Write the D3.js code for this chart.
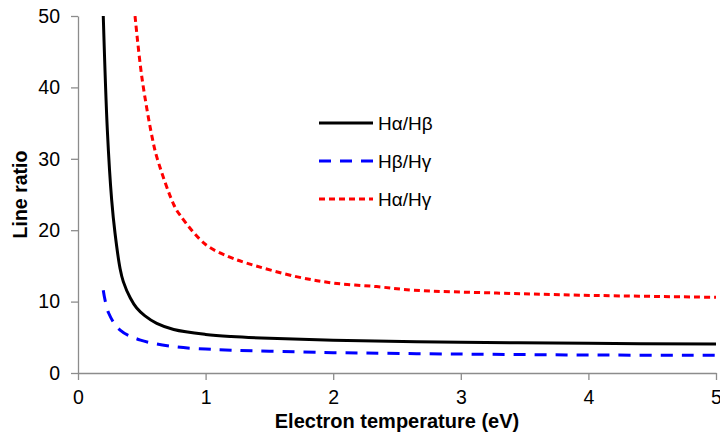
<!DOCTYPE html>
<html><head><meta charset="utf-8">
<script src="https://cdn.jsdelivr.net/npm/d3@7"></script>
<style>
html,body{margin:0;padding:0;background:#fff;}
text{font-family:"Liberation Sans",Arial,sans-serif;}
</style></head>
<body><svg id="chart" width="720" height="436"></svg>
<script>
// Hα/Hβ
const tempAB = [0.198, 0.23, 0.264, 0.29, 0.33, 0.355, 0.41, 0.46, 0.525, 0.617, 0.75, 1.0, 1.2, 1.5, 2.0, 3.0, 4.0, 5.0];
const ratioAB = [50, 34, 24.2, 19.6, 14.6, 12.8, 10.5, 9.1, 8.0, 6.95, 6.1, 5.4, 5.1, 4.85, 4.6, 4.3, 4.15, 4.05];
// Hβ/Hγ
const tempBG = [0.198, 0.24, 0.33, 0.49, 0.75, 1.0, 1.2, 1.5, 2.0, 3.0, 4.0, 5.0];
const ratioBG = [11.6, 8.4, 6.0, 4.6, 3.7, 3.35, 3.2, 3.05, 2.85, 2.65, 2.52, 2.48];
// Hα/Hγ
const tempAG = [0.447, 0.5, 0.58, 0.62, 0.75, 0.8, 1.0, 1.18, 1.32, 1.71, 2.0, 2.34, 2.63, 3.28, 3.93, 5.0];
const ratioAG = [50, 41.5, 33.1, 30.1, 23.6, 22.1, 18.0, 16.3, 15.4, 13.5, 12.6, 12.1, 11.6, 11.2, 10.9, 10.6];

const seriesNames = ["Hα/Hβ", "Hβ/Hγ", "Hα/Hγ"];
const xTicks = [0, 1, 2, 3, 4, 5];
const yTicks = [0, 10, 20, 30, 40, 50];

const svg = d3.select("#chart");
const L = 78, R = 716, T = 16, B = 373;
const x = d3.scaleLinear().domain([0, 5]).range([L, R]);
const y = d3.scaleLinear().domain([0, 50]).range([B, T]);

svg.append("defs").append("clipPath").attr("id","clip")
  .append("rect").attr("x", L).attr("y", T).attr("width", R - L).attr("height", B - T);

const axisColor = "#8c8c8c";
const gx = svg.append("g").attr("transform", `translate(0,${B})`)
  .call(d3.axisBottom(x).tickValues(xTicks).tickFormat(d3.format("d")).tickSize(7).tickSizeOuter(0).tickPadding(10));
const gy = svg.append("g").attr("transform", `translate(${L},0)`)
  .call(d3.axisLeft(y).tickValues(yTicks).tickFormat(d3.format("d")).tickSize(7).tickSizeOuter(0).tickPadding(11));
[gx, gy].forEach(g => {
  g.attr("font-size", null);
  g.select(".domain").attr("stroke", axisColor).attr("stroke-width", 1.3);
  g.selectAll(".tick line").attr("stroke", axisColor).attr("stroke-width", 1.3);
  g.selectAll(".tick text").attr("fill", "#000").style("font-size", "19.5px").style("font-family", "'Liberation Sans', Arial, sans-serif");
});

const line = d3.line().x(d => x(d[0])).y(d => y(d[1])).curve(d3.curveCatmullRom.alpha(0.5));
const series = [
  {name: seriesNames[0], t: tempAB, v: ratioAB, color: "#000000", dash: null},
  {name: seriesNames[1], t: tempBG, v: ratioBG, color: "#0000ff", dash: "12,9"},
  {name: seriesNames[2], t: tempAG, v: ratioAG, color: "#ff0000", dash: "6,4"}
];
const plot = svg.append("g").attr("clip-path", "url(#clip)");
series.forEach(s => {
  plot.append("path").datum(s.t.map((t, i) => [t, s.v[i]]))
    .attr("fill", "none").attr("stroke", s.color).attr("stroke-width", 3)
    .attr("stroke-dasharray", s.dash).attr("d", line);
});

// legend
const legY = [123, 161, 199];
series.forEach((s, i) => {
  svg.append("line").attr("x1", 319).attr("x2", 373).attr("y1", legY[i]).attr("y2", legY[i])
    .attr("stroke", s.color).attr("stroke-width", 3).attr("stroke-dasharray", s.dash);
  svg.append("text").attr("x", 378).attr("y", legY[i]).attr("dy", "0.35em")
    .style("font-size", "19px").attr("fill", "#000").text(s.name);
});

// axis titles
svg.append("text").attr("x", (L + R) / 2).attr("y", 428).attr("text-anchor", "middle")
  .style("font-size", "20px").style("font-weight", "bold").text("Electron temperature (eV)");
svg.append("text").attr("transform", `translate(27,${(T + B) / 2}) rotate(-90)`).attr("text-anchor", "middle")
  .style("font-size", "19.5px").style("font-weight", "bold").text("Line ratio");
</script>
</body></html>
